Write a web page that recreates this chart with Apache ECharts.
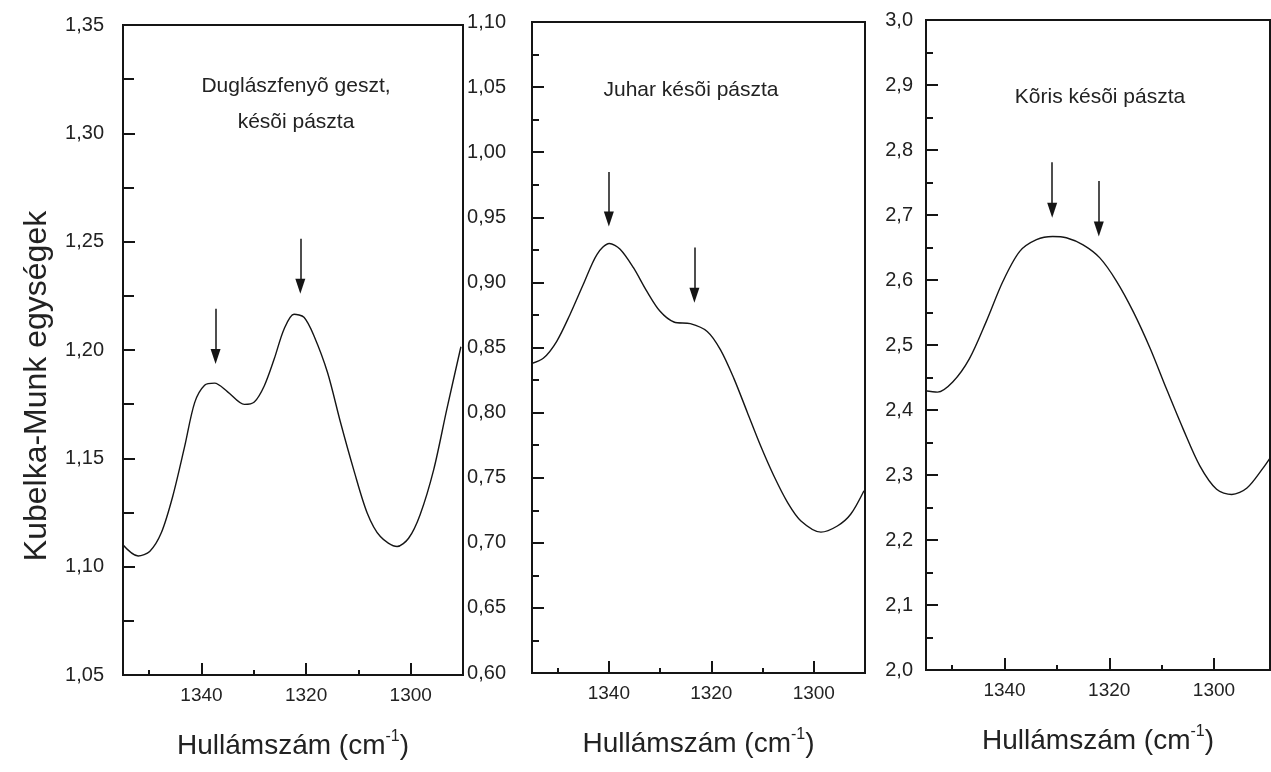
<!DOCTYPE html>
<html>
<head>
<meta charset="utf-8">
<script src="https://cdn.jsdelivr.net/npm/echarts@6/dist/echarts.min.js"></script>
<style>
  html, body { margin: 0; background: #fff; }
  #chart { width: 1271px; height: 772px; }
</style>
</head>
<body>
<div id="chart"></div>
<script>
// Duglászfenyõ geszt, késõi pászta
const wave1 = [1355.3, 1352.1, 1349.9, 1347.7, 1345.5, 1343.2, 1341.3, 1339.4, 1337.5, 1335.0, 1331.8, 1329.9, 1328.0, 1326.1, 1324.2, 1322.3, 1320.4, 1318.5, 1315.9, 1313.4, 1310.9, 1308.3, 1305.8, 1302.6, 1300.4, 1298.2, 1295.6, 1293.1, 1290.4];
const km1 = [1.1108, 1.1049, 1.107, 1.1155, 1.1324, 1.1556, 1.1757, 1.1837, 1.1847, 1.1807, 1.1749, 1.176, 1.1834, 1.1958, 1.2097, 1.2165, 1.2151, 1.2066, 1.1896, 1.1664, 1.1448, 1.1247, 1.1139, 1.1093, 1.1131, 1.124, 1.1448, 1.1726, 1.2015];
// Juhar késõi pászta
const wave2 = [1355.3, 1352.8, 1350.2, 1347.6, 1345.0, 1342.3, 1339.9, 1337.8, 1335.2, 1332.6, 1330.0, 1327.3, 1324.1, 1320.8, 1318.2, 1315.6, 1313.0, 1310.4, 1307.8, 1305.1, 1302.5, 1298.6, 1295.4, 1292.8, 1290.2];
const km2 = [0.8374, 0.8417, 0.8546, 0.8752, 0.8984, 0.9216, 0.9299, 0.9255, 0.9113, 0.8933, 0.8778, 0.8696, 0.8683, 0.8623, 0.8482, 0.8263, 0.8005, 0.7747, 0.7515, 0.7309, 0.7168, 0.7082, 0.7129, 0.7219, 0.740];
// Kõris késõi pászta
const wave3 = [1355.6, 1352.8, 1349.9, 1346.7, 1343.5, 1340.3, 1337.1, 1333.9, 1330.8, 1328.2, 1325.0, 1321.8, 1318.6, 1315.4, 1312.2, 1309.1, 1305.9, 1302.7, 1299.5, 1296.6, 1293.7, 1290.6, 1289.3];
const km3 = [2.430, 2.4275, 2.443, 2.479, 2.536, 2.598, 2.644, 2.662, 2.667, 2.665, 2.654, 2.634, 2.598, 2.551, 2.495, 2.433, 2.371, 2.314, 2.278, 2.270, 2.280, 2.311, 2.326];

// arrows: [wavenumber, top of shaft, middle of head]
const arrows1 = [[1337.3, 1.219, 1.197], [1321.1, 1.2514, 1.2294]];
const arrows2 = [[1340.0, 0.9848, 0.9486], [1323.3, 0.9268, 0.8901]];
const arrows3 = [[1330.9, 2.781, 2.7075], [1322.0, 2.7525, 2.6785]];

const panelTitles = ['Duglászfenyõ geszt,\nkésõi pászta', 'Juhar késõi pászta', 'Kõris késõi pászta'];
const xMajorTicks = [1300, 1320, 1340];
const xMinorTicks = [1310, 1330, 1350];
const xMin = [1290, 1290, 1289.3];
const xMax = 1355;
const yMin = [1.05, 0.60, 2.0];
const yMax = [1.35, 1.10, 3.0];
const yStep = [0.05, 0.05, 0.1];
const yDigits = [2, 2, 1];
const yAxisName = 'Kubelka-Munk egységek';
const xAxisName = '{a|Hullámszám (cm}{s|-1}{a|)}';

const FONT = 'Liberation Sans, Arial, sans-serif';
const INK = '#151515';

const grids = [
  { left: 123, top: 25, width: 340, height: 650 },
  { left: 532, top: 22, width: 333, height: 651 },
  { left: 926, top: 20, width: 344, height: 650 },
];
const titlePos = [[296, 104], [691, 90], [1100, 97]];
const minorLen = [11, 7, 7];
const yLabelGap = [19, 26, 13];

const chart = echarts.init(document.getElementById('chart'));

const xAxis = [];
const yAxis = [];
const series = [];
const curves = [[wave1, km1, arrows1], [wave2, km2, arrows2], [wave3, km3, arrows3]];

grids.forEach((g, i) => {
  // main x axis: labels + long ticks
  xAxis.push({
    type: 'value', gridIndex: i, position: 'bottom', min: xMin[i], max: xMax, inverse: true,
    name: xAxisName, nameLocation: 'middle', nameGap: 54,
    nameTextStyle: {
      rich: {
        a: { fontSize: 28, fontFamily: FONT, color: '#222', lineHeight: 34 },
        s: { fontSize: 16, fontFamily: FONT, color: '#222', verticalAlign: 'top', lineHeight: 34, padding: [0, 0, 14, 0] },
      },
    },
    axisLine: { lineStyle: { color: INK, width: 2 } },
    axisTick: { inside: true, length: 12, customValues: xMajorTicks, lineStyle: { color: INK, width: 2 } },
    axisLabel: {
      customValues: xMajorTicks, fontSize: 19, fontFamily: FONT, color: '#222', margin: 11,
      formatter: (v) => String(v),
    },
    splitLine: { show: false },
  });
  // second x axis only for the short ticks between
  xAxis.push({
    type: 'value', gridIndex: i, position: 'bottom', offset: 0, min: xMin[i], max: xMax, inverse: true,
    axisLine: { show: false },
    axisTick: { inside: true, length: 5, customValues: xMinorTicks, lineStyle: { color: INK, width: 2 } },
    axisLabel: { show: false },
    splitLine: { show: false },
  });

  yAxis.push({
    type: 'value', gridIndex: i, min: yMin[i], max: yMax[i], interval: yStep[i],
    axisLine: { lineStyle: { color: INK, width: 2 } },
    axisTick: { inside: true, length: 12, lineStyle: { color: INK, width: 2 } },
    minorTick: { show: true, splitNumber: 2, length: minorLen[i], lineStyle: { color: INK, width: 2 } },
    axisLabel: {
      fontSize: 20, fontFamily: FONT, color: '#222', margin: yLabelGap[i],
      formatter: (v) => v.toFixed(yDigits[i]).replace('.', ','),
    },
    splitLine: { show: false },
  });

  const [xs, ys, arr] = curves[i];
  series.push({
    type: 'line', xAxisIndex: i * 2, yAxisIndex: i,
    data: xs.map((x, k) => [x, ys[k]]),
    showSymbol: false, smooth: 0.3, silent: true,
    lineStyle: { color: INK, width: 1.4 },
    markLine: {
      silent: true, animation: false,
      symbol: ['none', 'triangle'], symbolSize: [10, 15],
      label: { show: false },
      lineStyle: { color: INK, width: 1.5, type: 'solid' },
      data: arr.map((a) => [{ coord: [a[0], a[1]] }, { coord: [a[0], a[2]] }]),
    },
  });
});

const texts = panelTitles.map((t, i) => ({
  type: 'text', x: titlePos[i][0], y: titlePos[i][1], silent: true,
  style: {
    text: t, align: 'center', verticalAlign: 'middle',
    fontSize: 21, fontFamily: FONT, fill: '#222', lineHeight: 36,
  },
}));
// shared y title, rotated
texts.push({
  type: 'text', x: 37, y: 386, rotation: Math.PI / 2, silent: true,
  style: {
    text: yAxisName, align: 'center', verticalAlign: 'middle',
    fontSize: 32, fontFamily: FONT, fill: '#222',
  },
});

const option = {
  backgroundColor: '#fff',
  animation: false,
  grid: grids.map((g) => Object.assign({ show: true, borderColor: INK, borderWidth: 2, backgroundColor: 'transparent' }, g)),
  xAxis,
  yAxis,
  series,
  graphic: texts,
};

chart.setOption(option);
</script>
</body>
</html>
